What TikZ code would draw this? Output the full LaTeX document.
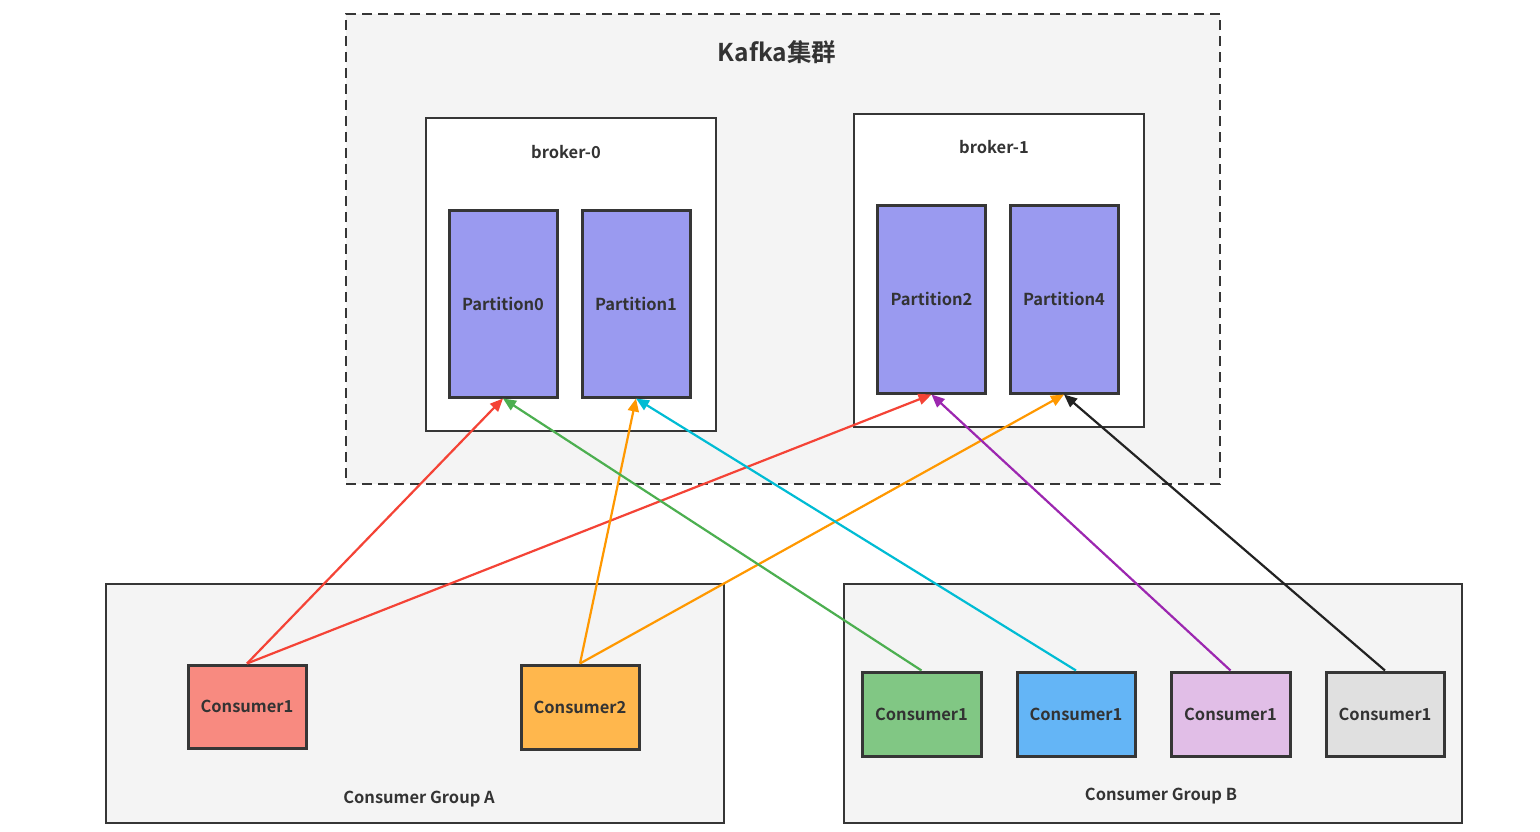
\documentclass[tikz,border=0pt]{standalone}
\usepackage{fontspec}
\setmainfont{Noto Sans CJK SC}[BoldFont={* Bold}]
\usetikzlibrary{arrows.meta}
\definecolor{txt}{HTML}{333333}
\definecolor{bord}{HTML}{363636}
\definecolor{bggray}{HTML}{F4F4F4}
\definecolor{part}{HTML}{9A9AF0}
\definecolor{cred}{HTML}{F88A80}
\definecolor{corange}{HTML}{FFB74D}
\definecolor{cgreen}{HTML}{81C784}
\definecolor{cblue}{HTML}{64B5F6}
\definecolor{cpurple}{HTML}{E1BEE7}
\definecolor{cgray}{HTML}{E0E0E0}
\definecolor{ared}{HTML}{F44336}
\definecolor{aorange}{HTML}{FF9800}
\definecolor{agreen}{HTML}{4CAF50}
\definecolor{acyan}{HTML}{00BCD4}
\definecolor{apurple}{HTML}{9C27B0}
\definecolor{ablack}{HTML}{222222}
\tikzset{
  lbl/.style={text=txt,font=\fontsize{16.5}{19}\selectfont\bfseries},
  group/.style={draw=bord,line width=2.2pt,fill=bggray,inner sep=0},
  broker/.style={draw=bord,line width=2.4pt,fill=white,inner sep=0},
  partbox/.style={draw=bord,line width=3pt,fill=part,inner sep=0,minimum width=108pt,minimum height=187pt,lbl},
  consbox/.style={draw=bord,line width=3pt,inner sep=0,minimum width=118pt,minimum height=83pt,lbl},
  conn/.style={line width=2.2pt,-{Triangle[length=13pt,width=11pt]}},
}
\begin{document}
\begin{tikzpicture}[x=1pt,y=-1pt]
\useasboundingbox[fill=white] (0,0) rectangle (1540,832);
% Kafka cluster
\node[group,dash pattern=on 10pt off 6pt,line width=2.6pt,minimum width=874pt,minimum height=470pt] (kafka) at (783,249) {};
\node[text=txt,font=\fontsize{24.5}{28}\selectfont\bfseries] (title) at (777,52) {Kafka集群};
% brokers
\node[broker,minimum width=290pt,minimum height=313pt] (b0) at (571,274.5) {};
\node[lbl] (b0l) at (566,152) {broker-0};
\node[broker,minimum width=290pt,minimum height=313pt] (b1) at (999,270.5) {};
\node[lbl] (b1l) at (994,147) {broker-1};
% partitions
\node[partbox] (p0) at (503,303.5) {Partition0};
\node[partbox] (p1) at (636,303.5) {Partition1};
\node[partbox,minimum height=188pt] (p2) at (931.5,299) {Partition2};
\node[partbox,minimum height=188pt] (p4) at (1064,299) {Partition4};
% groups
\node[group,minimum width=618pt,minimum height=239pt] (ga) at (415,703.5) {};
\node[lbl] (gal) at (419,799) {Consumer Group A};
\node[group,minimum width=618pt,minimum height=239pt] (gb) at (1153,703.5) {};
\node[lbl] (gbl) at (1161,796) {Consumer Group B};
% consumers
\node[consbox,fill=cred] (ca1) at (247,706.5) {Consumer1};
\node[consbox,fill=corange,minimum height=84pt] (ca2) at (580,707) {Consumer2};
\node[consbox,fill=cgreen,minimum width=119pt,minimum height=84pt] (cb1) at (921.5,714) {Consumer1};
\node[consbox,fill=cblue,minimum height=84pt] (cb2) at (1076,714) {Consumer1};
\node[consbox,fill=cpurple,minimum width=119pt,minimum height=84pt] (cb3) at (1230.5,714) {Consumer1};
\node[consbox,fill=cgray,minimum height=84pt] (cb4) at (1385,714) {Consumer1};
% connectors
\draw[conn,ared] (ca1.north) -- (p0.south);
\draw[conn,ared] (ca1.north) -- (p2.south);
\draw[conn,aorange] (ca2.north) -- (p1.south);
\draw[conn,aorange] (ca2.north) -- (p4.south);
\draw[conn,agreen] (cb1.north) -- (p0.south);
\draw[conn,acyan] (cb2.north) -- (p1.south);
\draw[conn,apurple] (cb3.north) -- (p2.south);
\draw[conn,ablack] (cb4.north) -- (p4.south);
\end{tikzpicture}
\end{document}
